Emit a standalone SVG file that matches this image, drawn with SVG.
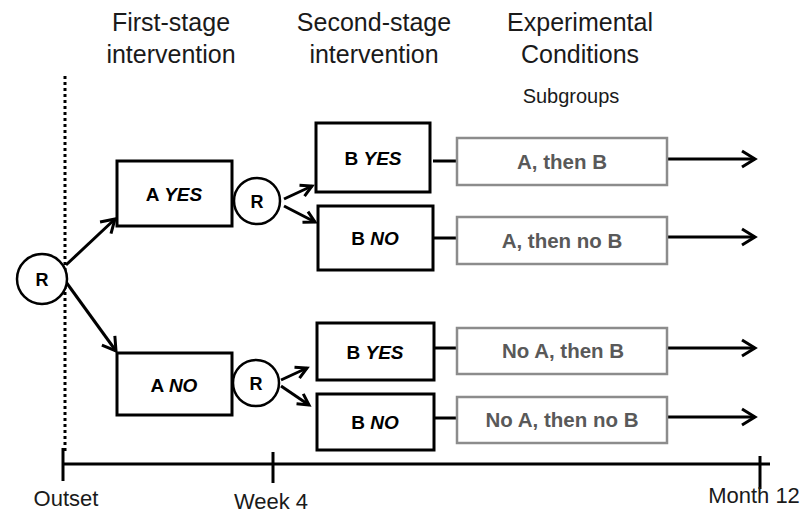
<svg xmlns="http://www.w3.org/2000/svg" width="802" height="514" viewBox="0 0 802 514">
  <style>
    .hdr { font-family: "Liberation Sans", Arial, sans-serif; font-size: 25px; fill: #1a1a1a; text-anchor: middle; }
    .sub { font-family: "Liberation Sans", Arial, sans-serif; font-size: 20px; fill: #1a1a1a; text-anchor: middle; }
    .tick { font-family: "Liberation Sans", Arial, sans-serif; font-size: 22px; fill: #1a1a1a; text-anchor: middle; }
    .box { fill: #ffffff; stroke: #000000; stroke-width: 3; }
    .gbox { fill: #ffffff; stroke: #8c8c8c; stroke-width: 2.5; }
    .circ { fill: #ffffff; stroke: #000000; stroke-width: 2.5; }
    .lbl { font-family: "Liberation Sans", Arial, sans-serif; font-size: 19px; font-weight: bold; fill: #000000; text-anchor: middle; }
    .glbl { font-family: "Liberation Sans", Arial, sans-serif; font-size: 20.5px; font-weight: bold; fill: #595959; text-anchor: middle; }
    .r { font-family: "Liberation Sans", Arial, sans-serif; font-size: 18px; font-weight: bold; fill: #000000; text-anchor: middle; }
    .line { stroke: #000000; stroke-width: 3; fill: none; }
    .arr { stroke: #000000; stroke-width: 3; fill: none; marker-end: url(#head); }
    .arrs { stroke: #000000; stroke-width: 3; fill: none; marker-end: url(#heads); }
  </style>
  <defs>
    <marker id="head" markerUnits="userSpaceOnUse" markerWidth="18" markerHeight="22" refX="15" refY="10" orient="auto">
      <path d="M2,2 L15,10 L2,18" fill="none" stroke="#000" stroke-width="3"/>
    </marker>
    <marker id="heads" markerUnits="userSpaceOnUse" markerWidth="16" markerHeight="18" refX="13" refY="8" orient="auto">
      <path d="M2,2 L13,8 L2,14" fill="none" stroke="#000" stroke-width="3"/>
    </marker>
  </defs>

  <!-- column headings -->
  <g id="headings">
    <text class="hdr" x="171" y="31">First-stage</text>
    <text class="hdr" x="171" y="63">intervention</text>
    <text class="hdr" x="374" y="31">Second-stage</text>
    <text class="hdr" x="374" y="63">intervention</text>
    <text class="hdr" x="580" y="31">Experimental</text>
    <text class="hdr" x="580" y="63">Conditions</text>
    <text class="sub" x="571" y="103">Subgroups</text>
  </g>

  <!-- timeline -->
  <g id="timeline">
    <line x1="65" y1="76" x2="65" y2="452" stroke="#000" stroke-width="3" stroke-dasharray="3 3"/>
    <line class="line" x1="63" y1="464" x2="770" y2="464"/>
    <line class="line" x1="63" y1="448" x2="63" y2="481"/>
    <line class="line" x1="273" y1="452" x2="273" y2="483"/>
    <line class="line" x1="760" y1="456" x2="760" y2="489"/>
    <text class="tick" x="66" y="506">Outset</text>
    <text class="tick" x="271" y="509">Week 4</text>
    <text class="tick" x="754" y="503">Month 12</text>
  </g>

  <!-- connectors -->
  <g id="connectors">
    <line class="arr" x1="66" y1="265" x2="115" y2="219"/>
    <line class="arr" x1="66" y1="282" x2="116" y2="351"/>
    <line class="arrs" x1="284" y1="199" x2="312" y2="186"/>
    <line class="arrs" x1="284" y1="206" x2="315" y2="222"/>
    <line class="arrs" x1="281" y1="380" x2="307" y2="368"/>
    <line class="arrs" x1="281" y1="386" x2="309" y2="405"/>
    <line class="line" x1="433" y1="161" x2="457" y2="161"/>
    <line class="line" x1="433" y1="238" x2="457" y2="238"/>
    <line class="line" x1="434" y1="348" x2="457" y2="348"/>
    <line class="line" x1="434" y1="418" x2="457" y2="418"/>
    <line class="arr" x1="668" y1="159" x2="755" y2="159"/>
    <line class="arr" x1="668" y1="237" x2="755" y2="237"/>
    <line class="arr" x1="668" y1="348" x2="755" y2="348"/>
    <line class="arr" x1="668" y1="417" x2="755" y2="417"/>
  </g>

  <!-- randomisation points -->
  <g id="r0">
    <circle class="circ" cx="42" cy="279" r="25"/>
    <text class="r" x="42" y="286">R</text>
  </g>
  <g id="r1">
    <circle class="circ" cx="257" cy="201" r="23"/>
    <text class="r" x="257" y="208">R</text>
  </g>
  <g id="r2">
    <circle class="circ" cx="256" cy="383" r="23"/>
    <text class="r" x="256" y="390">R</text>
  </g>

  <!-- first-stage boxes -->
  <g id="a-yes">
    <rect class="box" x="117" y="161" width="115" height="65"/>
    <text class="lbl" x="174" y="201">A <tspan font-style="italic">YES</tspan></text>
  </g>
  <g id="a-no">
    <rect class="box" x="117" y="353" width="115" height="62"/>
    <text class="lbl" x="174" y="392">A <tspan font-style="italic">NO</tspan></text>
  </g>

  <!-- second-stage boxes -->
  <g id="b-yes-1">
    <rect class="box" x="316" y="123" width="114" height="69"/>
    <text class="lbl" x="373" y="165">B <tspan font-style="italic">YES</tspan></text>
  </g>
  <g id="b-no-1">
    <rect class="box" x="318" y="206" width="115" height="64"/>
    <text class="lbl" x="375" y="245">B <tspan font-style="italic">NO</tspan></text>
  </g>
  <g id="b-yes-2">
    <rect class="box" x="317" y="323" width="117" height="57"/>
    <text class="lbl" x="375" y="359">B <tspan font-style="italic">YES</tspan></text>
  </g>
  <g id="b-no-2">
    <rect class="box" x="317" y="394" width="117" height="56"/>
    <text class="lbl" x="375" y="429">B <tspan font-style="italic">NO</tspan></text>
  </g>

  <!-- subgroups -->
  <g id="sg-1">
    <rect class="gbox" x="457" y="138" width="210" height="47"/>
    <text class="glbl" x="562" y="169">A, then B</text>
  </g>
  <g id="sg-2">
    <rect class="gbox" x="457" y="217" width="210" height="47"/>
    <text class="glbl" x="562" y="248">A, then no B</text>
  </g>
  <g id="sg-3">
    <rect class="gbox" x="457" y="328" width="210" height="46"/>
    <text class="glbl" x="563" y="358">No A, then B</text>
  </g>
  <g id="sg-4">
    <rect class="gbox" x="457" y="397" width="210" height="46"/>
    <text class="glbl" x="562" y="427">No A, then no B</text>
  </g>
</svg>
